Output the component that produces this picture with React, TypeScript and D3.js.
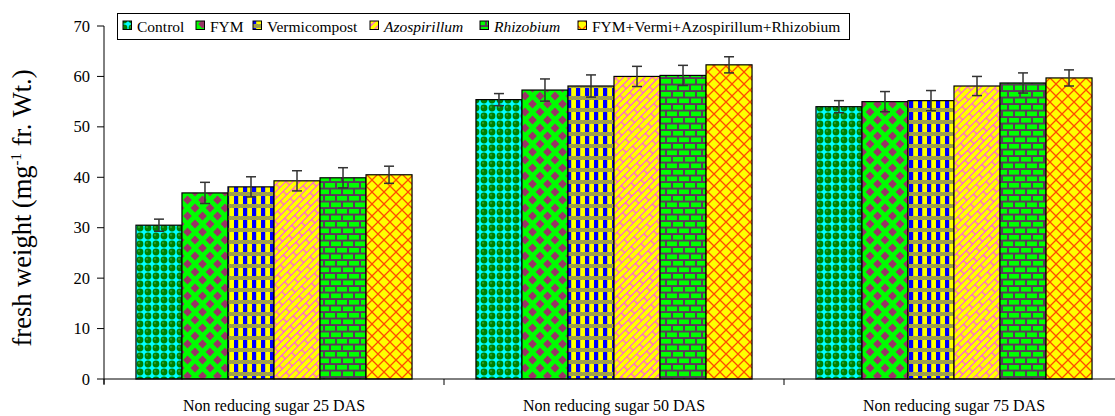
import React from "react";
import * as d3 from "d3";

const categories = ["Non reducing sugar 25 DAS", "Non reducing sugar 50 DAS", "Non reducing sugar 75 DAS"];
const seriesNames = ["Control", "FYM", "Vermicompost", "Azospirillum", "Rhizobium", "FYM+Vermi+Azospirillum+Rhizobium"];
const italicSeries = [false, false, false, true, true, false];
const control = [30.5, 55.4, 54.0];
const fym = [36.9, 57.3, 55.0];
const vermicompost = [38.1, 58.1, 55.2];
const azospirillum = [39.3, 60.0, 58.1];
const rhizobium = [39.9, 60.2, 58.7];
const combined = [40.5, 62.3, 59.7];
const errControl = [1.2, 1.2, 1.2];
const errFym = [2.1, 2.2, 2.0];
const errVermi = [2.0, 2.2, 2.0];
const errAzo = [2.0, 2.0, 1.9];
const errRhiz = [2.0, 2.0, 2.0];
const errComb = [1.7, 1.6, 1.6];
const yTicks = [0, 10, 20, 30, 40, 50, 60, 70];

const values = [control, fym, vermicompost, azospirillum, rhizobium, combined];
const errors = [errControl, errFym, errVermi, errAzo, errRhiz, errComb];
const patternIds = ["pCtrl", "pFym", "pVerm", "pAzo", "pRhiz", "pComb"];

const W = 1115, H = 416;
const x0 = 104, x1 = 1124, yTop = 26, yBot = 379;
const FONT = '"Liberation Serif"';

function Patterns() {
  const checks: JSX.Element[] = [];
  for (let i = 0; i < 6; i++) {
    checks.push(<rect key={`a${i}`} x={i * 1.5} y={0} width={0.75} height={1.3} fill="#c8c800" />);
    checks.push(<rect key={`b${i}`} x={i * 1.5 + 0.75} y={1.3} width={0.75} height={1.3} fill="#c8c800" />);
    checks.push(<rect key={`c${i}`} x={i * 1.5} y={2.6} width={0.75} height={1.4} fill="#c8c800" />);
  }
  return (
    <defs>
      <pattern id="pCtrl" width="8" height="8" patternUnits="userSpaceOnUse">
        <rect width="8" height="8" fill="#00ffff" />
        <circle cx="4" cy="4" r="3.4" fill="#008000" />
        <circle cx="3" cy="3" r="1.2" fill="#2a9a2a" />
      </pattern>
      <pattern id="pFym" width="15" height="16" patternUnits="userSpaceOnUse">
        <rect width="15" height="16" fill="#00ff00" />
        <path d="M7.5 3.6 L11.9 8 L7.5 12.4 L3.1 8 Z" fill="#993366" />
        <path d="M0 -4.4 L4.4 0 L0 4.4 L-4.4 0 Z M15 -4.4 L19.4 0 L15 4.4 L10.6 0 Z M0 11.6 L4.4 16 L0 20.4 L-4.4 16 Z M15 11.6 L19.4 16 L15 20.4 L10.6 16 Z" fill="#993366" />
      </pattern>
      <pattern id="pVerm" width="9" height="12" patternUnits="userSpaceOnUse">
        <rect width="9" height="12" fill="#ffff00" />
        <rect x="0" y="0" width="4.2" height="12" fill="#0000ff" />
        <rect x="0" y="0" width="9" height="4" fill="#7c7c8c" />
        {checks}
      </pattern>
      <pattern id="pAzo" width="18" height="10" patternUnits="userSpaceOnUse" patternTransform="rotate(-45)">
        <rect x="-1" y="-1" width="20" height="12" fill="#ffff00" />
        <path d="M0 0.5 H18 M0 5.5 H18 M2 0.5 V5.5 M11 5.5 V10.5" stroke="#ff44ff" strokeWidth="1.1" fill="none" />
      </pattern>
      <pattern id="pRhiz" width="12" height="13" patternUnits="userSpaceOnUse">
        <rect width="12" height="13" fill="#5a3a5a" />
        <rect x="1" y="1" width="10" height="4.6" fill="#00ff00" />
        <rect x="-5" y="7.5" width="10" height="4.6" fill="#00ff00" />
        <rect x="7" y="7.5" width="10" height="4.6" fill="#00ff00" />
      </pattern>
      <pattern id="pComb" width="12" height="12" patternUnits="userSpaceOnUse">
        <rect width="12" height="12" fill="#ffff00" />
        <path d="M0 0 L12 12 M12 0 L0 12 M-1 11 L1 13 M11 -1 L13 1" stroke="#ff4a00" strokeWidth="1.3" />
      </pattern>
    </defs>
  );
}

export default function App() {
  const y = d3.scaleLinear().domain([0, 70]).range([yBot, yTop]);
  const xg = d3.scaleBand<string>().domain(categories).range([x0, x1]).padding(0);
  const gw = xg.bandwidth();
  const xs = d3.scaleBand<string>().domain(seriesNames).range([gw * 0.094, gw * 0.906]).padding(0);

  const legendX = [123, 196, 253, 370, 480, 578];

  return (
    <svg width={W} height={H} style={{ position: "absolute", left: 0, top: 0, background: "#fff" }}>
      <Patterns />
      {categories.map((c, ci) => (
        <g key={c}>
          {seriesNames.map((s, si) => {
            const v = values[si][ci];
            const e = errors[si][ci];
            const bx = (xg(c) as number) + (xs(s) as number);
            const bw = xs.bandwidth();
            const cx = bx + bw / 2;
            return (
              <g key={s}>
                <rect x={bx} y={y(v)} width={bw} height={yBot - y(v)} fill={`url(#${patternIds[si]})`} stroke="#000" strokeWidth={1.2} />
                <line x1={cx} x2={cx} y1={y(v + e)} y2={y(v - e)} stroke="#333" strokeWidth={1.5} />
                <line x1={cx - 5} x2={cx + 5} y1={y(v + e)} y2={y(v + e)} stroke="#333" strokeWidth={1.5} />
                <line x1={cx - 5} x2={cx + 5} y1={y(v - e)} y2={y(v - e)} stroke="#333" strokeWidth={1.5} />
              </g>
            );
          })}
          <text x={(xg(c) as number) + gw / 2} y={411} textAnchor="middle" fontSize={16} fill="#000" style={{ fontFamily: FONT }}>{c}</text>
        </g>
      ))}
      <line x1={x0} x2={x0} y1={yTop} y2={yBot + 5} stroke="#000" strokeWidth={1} />
      {yTicks.map((t) => (
        <g key={t}>
          <line x1={x0 - 7} x2={x0} y1={y(t)} y2={y(t)} stroke="#000" strokeWidth={1} />
          <text x={90} y={y(t) + 5.5} textAnchor="end" fontSize={16.5} fill="#000" style={{ fontFamily: FONT }}>{t}</text>
        </g>
      ))}
      <line x1={x0} x2={W} y1={yBot} y2={yBot} stroke="#000" strokeWidth={1} />
      {categories.map((c) => (
        <line key={c} x1={xg(c) as number} x2={xg(c) as number} y1={yBot} y2={yBot + 6} stroke="#000" />
      ))}
      <text transform={`translate(31, 208) rotate(-90)`} textAnchor="middle" fontSize={26.5} fill="#000" style={{ fontFamily: FONT }}>
        fresh weight (mg<tspan dy={-10} fontSize={15}>-1</tspan><tspan dy={10}> fr. Wt.)</tspan>
      </text>
      <rect x={117.5} y={13.5} width={732} height={26} fill="#fff" stroke="#000" strokeWidth={1} />
      {seriesNames.map((s, si) => (
        <g key={s}>
          <rect x={legendX[si]} y={21} width={8.5} height={8.5} fill={`url(#${patternIds[si]})`} stroke="#000" strokeWidth={1} />
          <text x={legendX[si] + 14} y={31.5} fontSize={15.5} fontStyle={italicSeries[si] ? "italic" : "normal"} fill="#000" style={{ fontFamily: FONT }}>{s}</text>
        </g>
      ))}
    </svg>
  );
}
